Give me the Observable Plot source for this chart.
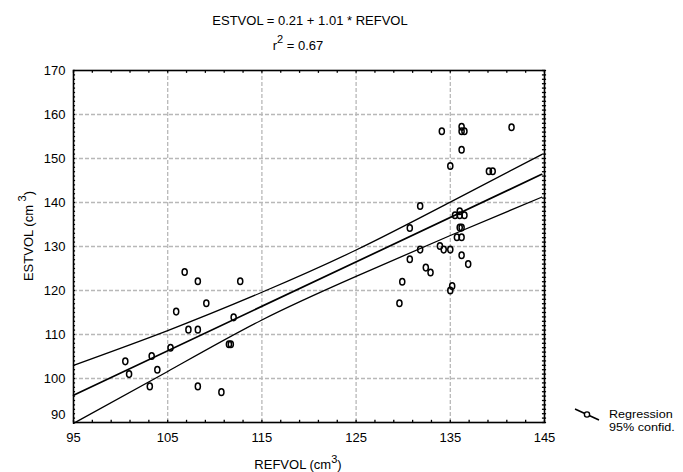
<!DOCTYPE html>
<html><head><meta charset="utf-8">
<script src="https://cdn.jsdelivr.net/npm/d3@7"></script>
<script src="https://cdn.jsdelivr.net/npm/@observablehq/plot@0.6"></script>
<style>body{margin:0;background:#fff} svg{font-family:"Liberation Sans",Arial,sans-serif}</style>
</head><body><div id="chart"></div>
<script>
const refvol = [106.8,108.2,112.7,109.1,105.9,112.0,107.2,108.2,105.3,111.5,111.7,100.5,103.3,100.9,103.9,103.1,108.2,110.7,
  136.2,136.2,136.5,134.1,141.5,136.2,135.0,139.1,139.5,131.8,136.0,135.5,136.0,136.5,130.7,136.0,136.2,135.7,136.2,133.9,134.3,135.0,131.8,130.7,136.2,136.9,132.4,132.9,129.9,135.2,135.0,129.6];
const estvol = [124.2,122.1,122.1,117.1,115.2,113.9,111.1,111.1,107.0,107.8,107.8,103.9,105.1,101.0,102.0,98.2,98.2,96.9,
  157.2,156.2,156.2,156.2,157.1,152.0,148.3,147.1,147.1,139.2,138.0,137.1,137.1,137.1,134.2,134.3,134.3,132.1,132.1,130.1,129.3,129.3,129.3,127.1,128.0,126.0,125.2,124.1,122.0,121.0,120.0,117.1];
const fitX = [95, 144.7];
const fitY = [96.2, 146.4];
const bandX = [95, 105, 115, 125, 135, 144.7];
const bandUpper = [103.0, 110.9, 119.6, 129.2, 140.1, 150.9];
const bandLower = [89.8, 101.6, 113.3, 123.2, 132.5, 141.2];
const xTicks = [95, 105, 115, 125, 135, 145];
const yTicks = [90, 100, 110, 120, 130, 140, 150, 160, 170];

const pts = refvol.map((x, i) => ({x, y: estvol[i]}));
const fit = fitX.map((x, i) => ({x, y: fitY[i]}));
const up = bandX.map((x, i) => ({x, y: bandUpper[i]}));
const lo = bandX.map((x, i) => ({x, y: bandLower[i]}));

// open ellipse marker (slightly taller than wide)
const ellipse = {
  draw(ctx, size) {
    const r = Math.sqrt(size / Math.PI), rx = r * 0.85, ry = r * 1.1, k = 0.5523;
    ctx.moveTo(rx, 0);
    ctx.bezierCurveTo(rx, ry * k, rx * k, ry, 0, ry);
    ctx.bezierCurveTo(-rx * k, ry, -rx, ry * k, -rx, 0);
    ctx.bezierCurveTo(-rx, -ry * k, -rx * k, -ry, 0, -ry);
    ctx.bezierCurveTo(rx * k, -ry, rx, -ry * k, rx, 0);
    ctx.closePath();
  }
};

const chart = Plot.plot({
  width: 683, height: 472,
  marginLeft: 73, marginRight: 139, marginTop: 70, marginBottom: 50,
  style: {fontSize: "13px", fontFamily: "Liberation Sans, Arial, sans-serif", background: "#fff", color: "#000"},
  x: {domain: [95, 145]},
  y: {domain: [90, 170]},
  marks: [
    Plot.gridX(xTicks.slice(1, -1), {stroke: "#b8b8b8", strokeOpacity: 1, strokeDasharray: "4,2", strokeWidth: 1.3}),
    Plot.gridY(yTicks.slice(1, -1), {stroke: "#b8b8b8", strokeOpacity: 1, strokeDasharray: "4,2", strokeWidth: 1.3}),
    Plot.line(up, {x: "x", y: "y", curve: "natural", stroke: "#000", strokeWidth: 1.3}),
    Plot.line(lo, {x: "x", y: "y", curve: "natural", stroke: "#000", strokeWidth: 1.3}),
    Plot.line(fit, {x: "x", y: "y", stroke: "#000", strokeWidth: 1.7}),
    Plot.dot(pts, {x: "x", y: "y", r: 3, symbol: ellipse, stroke: "#000", strokeWidth: 1.5, fill: "none"}),
    Plot.ruleX(d3.range(95, 146, 2), {y1: 170, y2: 169.35, stroke: "#000", strokeWidth: 1.3}),
    Plot.ruleX(d3.range(95, 146, 2), {y1: 90, y2: 90.5, stroke: "#000", strokeWidth: 1.3}),
    Plot.ruleY(d3.range(90, 171, 1), {x1: 144.78, x2: 145.22, stroke: "#000", strokeWidth: 1.3}),
    Plot.ruleY(d3.range(90, 171, 1), {x1: 95, x2: 95.22, stroke: "#000", strokeWidth: 1.3}),
    Plot.frame({stroke: "#000", strokeWidth: 1.6}),
    Plot.axisX(xTicks, {tickSize: 0, tickPadding: 10, label: null}),
    Plot.axisY(yTicks.slice(1), {tickSize: 0, tickPadding: 8, label: null}),
    Plot.axisY([90], {tickSize: 0, tickPadding: 8, dy: -8, label: null})
  ]
});
document.getElementById("chart").appendChild(chart);

const svg = d3.select(chart);
const g = svg.append("g").attr("fill", "#000").attr("font-size", 13);
g.append("text").attr("x", 310).attr("y", 25).attr("text-anchor", "middle")
  .text("ESTVOL = 0.21 + 1.01 * REFVOL");
const r2 = g.append("text").attr("x", 298).attr("y", 50).attr("text-anchor", "middle");
r2.append("tspan").text("r");
r2.append("tspan").attr("dy", -7).attr("font-size", 11).text("2");
r2.append("tspan").attr("dy", 7).text(" = 0.67");

const xl = g.append("text").attr("x", 298).attr("y", 469).attr("text-anchor", "middle");
xl.append("tspan").text("REFVOL (cm");
xl.append("tspan").attr("dy", -6).attr("font-size", 11).text("3");
xl.append("tspan").attr("dy", 6).text(")");

const yl = g.append("text").attr("transform", "translate(33,236) rotate(-90)").attr("text-anchor", "middle");
yl.append("tspan").text("ESTVOL (cm ");
yl.append("tspan").attr("dy", -7).attr("font-size", 11).text("3");
yl.append("tspan").attr("dy", 7).text(")");

// legend
const lg = svg.append("g");
lg.append("line").attr("x1", 575).attr("y1", 409).attr("x2", 599).attr("y2", 420)
  .attr("stroke", "#000").attr("stroke-width", 1.6);
lg.append("circle").attr("cx", 587).attr("cy", 414.5).attr("r", 2.6)
  .attr("fill", "#fff").attr("stroke", "#000").attr("stroke-width", 1.4);
const lt = lg.append("g").attr("transform", "translate(609,0) scale(1.2,1)")
  .attr("font-size", 10.5).attr("text-anchor", "start").attr("fill", "#000");
lt.append("text").attr("x", 0).attr("y", 418.5).text("Regression");
lt.append("text").attr("x", 0).attr("y", 431).text("95% confid.");
</script>
</body></html>
